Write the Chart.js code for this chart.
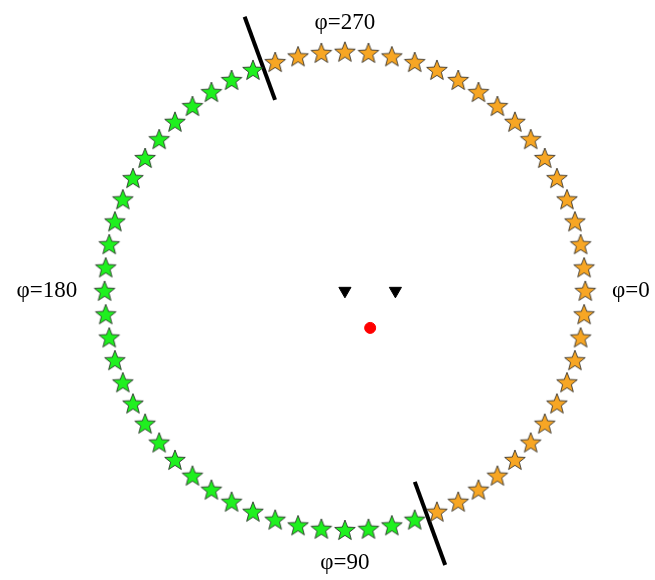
<!DOCTYPE html>
<html>
<head>
<meta charset="utf-8">
<script src="https://cdn.jsdelivr.net/npm/chart.js@4/dist/chart.umd.min.js"></script>
<style>
  body { margin: 0; background: #fff; }
  #wrap { width: 655px; height: 580px; }
</style>
</head>
<body>
<div id="wrap"><canvas id="c"></canvas></div>
<script>
// 64 stars round the unit circle, phi measured clockwise from the right
const nStars = 64;
const splitAngles = [70, 250];          // boundary between orange and green
const splitRadius = [0.85, 1.22];
const triangles = [{ x: 0, y: 0 }, { x: 0.21, y: 0 }];
const redDot = [{ x: 0.105, y: -0.155 }];
const phiLabels = ['φ=0', 'φ=90', 'φ=180', 'φ=270'];
const phiLabelAngles = [0, 90, 180, 270];
const phiLabelRadius = [1.19, 1.14, 1.24, 1.12];

const toXY = (deg, r) => {
    const a = deg * Math.PI / 180;
    return { x: r * Math.cos(a), y: -r * Math.sin(a) };
};

const orange = [], green = [];
for (let i = 0; i < nStars; i++) {
    const deg = i * 360 / nStars;
    const p = toXY(deg, 1);
    if (deg > splitAngles[0] && deg < splitAngles[1]) green.push(p); else orange.push(p);
}

// filled five-point star as a point image
function starImage(fill) {
    const s = 24, c = document.createElement('canvas');
    c.width = s; c.height = s;
    const g = c.getContext('2d');
    g.beginPath();
    for (let k = 0; k < 10; k++) {
        const r = k % 2 ? 4.6 : 10.8;
        const a = -Math.PI / 2 + k * Math.PI / 5;
        g.lineTo(s / 2 + r * Math.cos(a), s / 2 + 0.8 + r * Math.sin(a));
    }
    g.closePath();
    g.fillStyle = fill; g.fill();
    g.lineWidth = 0.8; g.strokeStyle = '#222'; g.stroke();
    return c;
}

const lineSets = splitAngles.map(deg => ({
    type: 'line',
    data: splitRadius.map(r => toXY(deg, r)),
    borderColor: '#000',
    borderWidth: 4,
    pointRadius: 0
}));

const labelPlugin = {
    id: 'phiLabels',
    afterDatasetsDraw(chart) {
        const { ctx, scales } = chart;
        ctx.save();
        ctx.font = '23px "Liberation Serif", serif';
        ctx.fillStyle = '#000';
        ctx.textAlign = 'center';
        ctx.textBaseline = 'middle';
        phiLabels.forEach((t, i) => {
            const p = toXY(phiLabelAngles[i], phiLabelRadius[i]);
            ctx.fillText(t, scales.x.getPixelForValue(p.x), scales.y.getPixelForValue(p.y));
        });
        ctx.restore();
    }
};

new Chart(document.getElementById('c'), {
    type: 'scatter',
    data: {
        datasets: [
            { data: orange, pointStyle: starImage('#f7a624'), pointRadius: 12 },
            { data: green, pointStyle: starImage('#1ff01f'), pointRadius: 12 },
            { data: triangles, pointStyle: 'triangle', rotation: 180, pointRadius: 7,
              backgroundColor: '#000', borderColor: '#000' },
            { data: redDot, pointStyle: 'circle', pointRadius: 5.5,
              backgroundColor: '#f00', borderColor: '#f00' },
            ...lineSets
        ]
    },
    options: {
        responsive: true,
        maintainAspectRatio: false,
        animation: false,
        layout: { padding: 0 },
        plugins: { legend: { display: false }, tooltip: { enabled: false } },
        scales: {
            x: { display: false, min: -1.381, max: 1.236 },
            y: { display: false, min: -1.155, max: 1.162 }
        }
    },
    plugins: [labelPlugin]
});
</script>
</body>
</html>
